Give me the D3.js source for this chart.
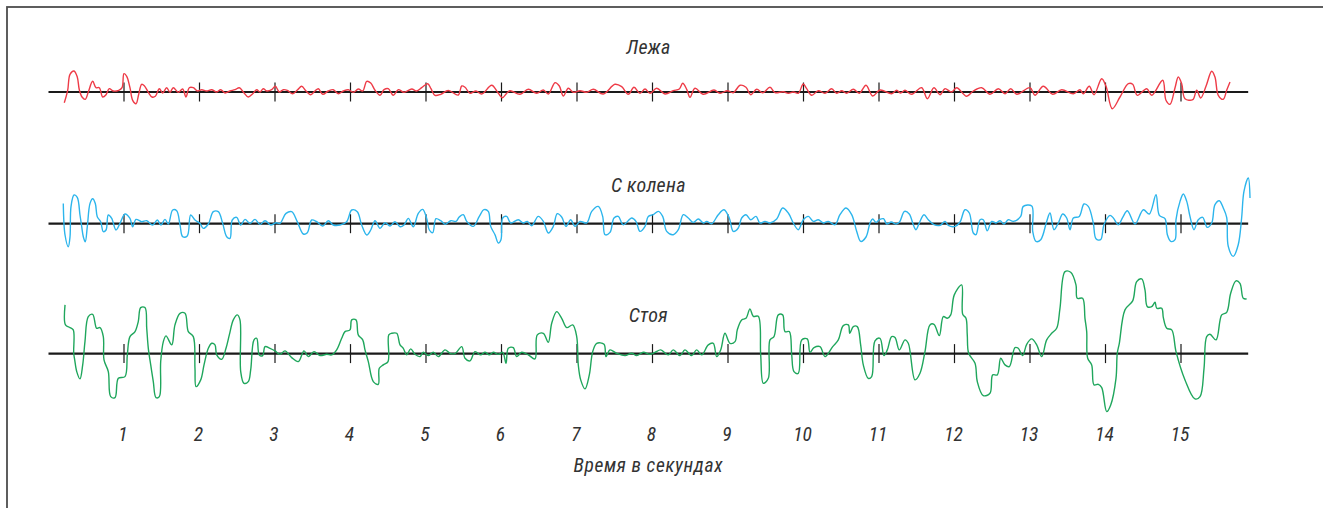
<!DOCTYPE html>
<html>
<head>
<meta charset="utf-8">
<script src="https://cdn.jsdelivr.net/npm/d3@7"></script>
<style>
  html, body { margin: 0; padding: 0; background: #fff; }
  svg text { font-family: "Liberation Sans Narrow", "Roboto Condensed", "Liberation Sans", sans-serif; font-style: italic; fill: #333; }
</style>
</head>
<body>
<div id="Chart"></div>
<script>
// seconds on the time axis
var tickValues = [1,2,3,4,5,6,7,8,9,10,11,12,13,14,15]
var axisLabel = "Время в секундах"
var titles = ["Лежа", "С колена", "Стоя"]

// trace: лежа (time in s, deflection)
var lyingT = [0.209,0.254,0.285,0.338,0.381,0.408,0.444,0.487,0.527,0.585,0.629,0.673,0.718,0.762,0.805,0.858,0.930,0.974,
  1.000,1.036,1.079,1.115,1.159,1.195,1.234,1.269,1.322,1.371,1.415,1.468,1.512,1.565,1.609,1.653,1.719,1.777,1.821,1.865,1.918,1.971,
  2.029,2.095,2.161,2.228,2.281,2.338,2.404,2.470,2.527,2.580,2.646,2.705,2.758,2.801,2.845,2.890,2.956,
  3.004,3.057,3.110,3.163,3.234,3.300,3.353,3.411,3.473,3.530,3.574,3.632,3.706,3.772,3.838,3.905,3.971,
  4.037,4.103,4.162,4.215,4.268,4.325,4.391,4.444,4.501,4.567,4.633,4.709,4.811,4.877,4.943,
  5.023,5.066,5.119,5.195,5.295,5.428,5.473,5.517,5.583,5.662,5.738,5.870,5.944,
  6.011,6.069,6.113,6.245,6.355,6.466,6.554,6.620,6.709,6.766,6.818,6.885,6.951,
  7.040,7.128,7.216,7.348,7.503,7.592,7.679,7.755,7.834,7.901,7.967,
  8.056,8.166,8.275,8.355,8.400,8.453,8.497,8.563,8.673,8.815,8.894,8.991,
  9.070,9.159,9.238,9.301,9.380,9.460,9.556,9.623,9.732,9.799,9.865,9.931,9.997,
  10.042,10.109,10.196,10.285,10.373,10.440,10.506,10.572,10.660,10.739,10.828,10.916,
  11.013,11.168,11.234,11.287,11.344,11.433,11.565,11.640,11.728,11.808,11.874,11.962,
  12.029,12.161,12.249,12.360,12.470,12.580,12.669,12.745,12.824,
  13.000,13.066,13.176,13.301,13.420,13.574,13.662,13.706,13.785,13.848,13.950,
  14.007,14.090,14.192,14.302,14.360,14.421,14.546,14.612,14.758,14.801,14.854,14.921,14.964,
  15.009,15.053,15.155,15.208,15.261,15.331,15.407,15.450,15.494,15.560,15.605,15.649]
var lyingV = [-10.7,1.7,17.7,21,15,2.3,-5,-7.3,0,10.7,4.3,4.3,-5,-2.7,3.3,1,1.7,4.3,
  18.3,15.7,4.3,-8.3,-11.7,-2.3,7.7,6.3,-0.3,-5,-4.3,3.3,-1,4.3,-0.3,4.3,-0.3,3,-5,4.3,4.3,1,
  2.3,1,2.3,0,2.3,-1,1,2.3,4.3,0,-5,-1.7,2.3,0,3.3,1,2.3,
  5.7,0,2.3,1.7,-1.7,2.3,5.7,1,-2.7,1,3.3,-2.3,1,2.3,-1.7,1,2.3,
  -0.3,3,1,10.7,9,1.7,-3.3,2.3,3.3,-3.3,2.3,-0.3,3,1,4.3,
  8.3,3.3,-3.3,-2.3,1.5,-3,6,4.7,-1.3,1,-2,6.7,0.3,
  -5.7,-1.3,1.3,-2.3,2.7,-1.3,2,-2,9.3,6,-4,3.7,-0.3,
  1.3,-0.3,2.7,-2,7.7,5.3,-2.3,4.7,-1.3,3,-1.3,
  3.7,-2,1.3,3,8.7,2.7,-5.3,3.7,-2.3,2,-1.3,1.3,
  -0.7,6.7,4.7,-2.7,2.7,-0.7,4.7,-0.7,0.3,-1.3,0,-1.3,8,
  3.3,-3.3,1.3,-1.3,3.3,-1.3,1.3,-1.3,2.7,-1.3,6.7,-4,
  2,-1.7,1.7,-1,1.7,-2.3,4.3,-6.7,4.3,-2.7,3.3,0,
  4.3,-4.3,1,4.3,-2.3,3.3,-1.7,3.3,-2.3,
  4.3,-3.3,5.7,-2.3,2.3,-1.7,2.3,-1.7,5.7,-2.7,13.3,
  5.7,-16.7,-5,8.3,7.7,-3.3,3.3,-3.3,11.7,-8.3,-12.3,4.3,15,
  8.3,-6.7,-7.7,1.7,-6,5.7,20.7,15,-3.3,-7.3,1.7,10]

// trace: с колена
var kneelingT = [0.196,0.219,0.262,0.285,0.298,0.338,0.381,0.417,0.440,0.461,0.487,0.514,0.550,0.585,0.620,0.646,0.691,0.726,0.762,0.792,0.837,0.894,0.947,
  1.013,1.079,1.115,1.159,1.234,1.301,1.380,1.441,1.490,1.543,1.587,1.645,1.698,1.742,1.777,1.838,1.883,1.940,
  2.007,2.050,2.117,2.183,2.249,2.307,2.360,2.404,2.434,2.493,2.546,2.603,2.669,2.735,2.801,2.868,2.943,
  3.013,3.066,3.146,3.221,3.295,3.375,3.428,3.486,3.552,3.632,3.706,3.772,3.861,3.950,
  4.016,4.090,4.148,4.215,4.268,4.325,4.391,4.457,4.523,4.589,4.656,4.709,4.766,4.832,4.898,4.956,
  5.009,5.044,5.089,5.132,5.195,5.252,5.330,5.397,5.440,5.494,5.539,5.626,5.706,5.768,5.825,5.857,5.914,5.958,5.993,
  6.016,6.069,6.122,6.222,6.289,6.342,6.400,6.487,6.554,6.620,6.686,6.739,6.797,6.854,6.916,6.974,
  7.040,7.128,7.195,7.282,7.340,7.371,7.437,7.490,7.547,7.613,7.725,7.781,7.834,7.901,7.944,
  8.011,8.077,8.135,8.188,8.275,8.342,8.408,8.474,8.540,8.607,8.673,8.718,8.784,8.871,8.947,
  9.017,9.070,9.136,9.181,9.238,9.301,9.371,9.424,9.490,9.556,9.645,9.724,9.799,9.865,9.931,9.997,
  10.064,10.130,10.196,10.262,10.328,10.417,10.483,10.563,10.638,10.705,10.758,10.828,10.881,10.916,10.960,
  11.004,11.060,11.103,11.162,11.228,11.272,11.338,11.401,11.454,11.490,11.534,11.596,11.653,11.728,11.808,11.874,11.918,
  12.007,12.073,12.139,12.196,12.249,12.285,12.338,12.381,12.434,12.493,12.550,12.603,12.656,12.713,12.779,12.877,12.911,
  13.023,13.036,13.079,13.142,13.221,13.265,13.318,13.375,13.433,13.486,13.530,13.574,13.653,13.715,13.772,13.838,13.874,13.936,13.980,
  14.060,14.104,14.170,14.228,14.289,14.391,14.501,14.580,14.669,14.713,14.788,14.819,14.864,14.921,14.934,14.987,
  15.031,15.076,15.119,15.172,15.229,15.287,15.348,15.407,15.450,15.507,15.560,15.605,15.626,15.692,15.758,15.803,15.834,15.891,15.914]
var kneelingV = [20.3,-11.3,-23,-13,17,28.7,26.3,8.7,-3,-13,-18,-3,20.3,25,20.3,7,2,-8,-6.3,8.7,5.3,-6.3,0.3,
  9.7,5.3,-3,4.3,2,3,-1.3,3.7,-1.3,4.3,-0.3,13.7,13,-1.3,-13,-12.3,8.7,3.7,
  0.3,-4.7,-0.3,12,12,0.3,-13,-14.7,3.7,6.3,-1.3,4.3,0.3,4.3,-0.7,3,-1.3,
  1,0.3,10.3,12,2,-10.3,-9,3.7,2,-2.3,3,-1.3,-1.3,2,
  13.7,12,-1.3,-11.3,-6.3,3,-4.7,1,-2.3,2,-3,-1.3,5.3,-3,10.3,14.3,
  5.3,-6.3,-9,5,3,-0.5,3,2.3,6.7,9,2.3,-2.7,7.3,14,12.3,-2.7,-11,-19.3,-16,
  5.7,7.3,0.7,4,0.7,2.3,-2,7.3,2.3,-9.3,-2.7,10,6.7,-2.7,4,-2.7,
  2.3,0.7,12.3,17.3,7.3,-11,-8.7,5.7,7.3,-1,5.7,2.3,-7.7,-2.7,7.3,
  9,12.3,7.3,-7.7,-11,-6,9,5.7,1.3,4.7,0.7,2.3,0,9,14,
  5.7,-7.7,-4.3,5.7,9,4,7.3,0.7,2.3,0.7,4.7,15.7,10.7,0.7,-6,4,
  7.3,2.3,4,0.7,2.3,-1,9,15.7,9,-7.7,-17.7,-13.3,0.7,4.7,1.3,
  4,5,-0.3,1.7,-0.3,1.7,12.3,9.7,-1,-6,0.7,9,4,-1,-1.7,2.3,-1.7,
  -2.7,1.7,14,10.7,-9.3,-11,4,4,-7,2.3,0.7,3,-0.3,4,2.3,7.3,17.3,
  17.7,-7.7,-17.7,-16,2.3,10.7,-6,0.7,9.7,5.7,-6,5.7,7.3,19.7,17.3,0.7,-15,-16,-1,
  8.3,5.7,-1,6.3,13,-0.3,14,9.7,29,8.3,5,-11,-17.7,-16,4,22.3,
  29.7,22.3,7.3,-6,4,6.3,-3.7,0.7,19,23,15.7,6.3,-22.7,-32.7,-21,5.7,32.3,45.7,25.7]

// trace: стоя
var standingT = [0.219,0.225,0.285,0.328,0.334,0.347,0.374,0.417,0.453,0.483,0.527,0.585,0.638,0.682,0.726,0.735,0.792,0.824,0.881,0.925,
  1.013,1.044,1.079,1.146,1.189,1.221,1.278,1.301,1.322,1.354,1.388,1.424,1.468,1.486,1.521,1.556,1.632,1.675,1.742,1.808,1.852,1.918,1.940,1.954,
  2.016,2.060,2.117,2.162,2.205,2.228,2.294,2.351,2.395,2.448,2.501,2.536,2.546,2.589,2.646,2.678,2.722,2.758,2.792,2.837,2.868,2.934,
  3.000,3.066,3.132,3.221,3.309,3.384,3.441,3.517,3.596,3.685,3.751,3.817,3.883,3.927,3.993,
  4.016,4.073,4.103,4.162,4.192,4.236,4.302,4.368,4.381,4.434,4.497,4.507,4.546,4.612,4.656,4.699,4.744,4.797,4.854,4.921,4.964,
  5.030,5.097,5.163,5.252,5.318,5.384,5.473,5.517,5.583,5.649,5.725,5.781,5.838,5.891,5.958,
  6.016,6.060,6.090,6.156,6.201,6.267,6.355,6.444,6.474,6.554,6.620,6.665,6.731,6.797,6.864,6.943,6.996,
  7.017,7.049,7.106,7.163,7.208,7.261,7.358,7.384,7.437,7.526,7.636,7.725,7.791,7.878,7.967,
  8.033,8.109,8.209,8.275,8.364,8.430,8.519,8.585,8.652,8.739,8.805,8.850,8.903,8.960,
  9.026,9.093,9.123,9.181,9.238,9.291,9.335,9.401,9.433,9.468,9.534,9.556,9.609,9.666,9.724,9.755,9.812,9.844,9.874,9.931,9.976,
  10.050,10.086,10.139,10.219,10.285,10.387,10.461,10.527,10.594,10.613,10.659,10.712,10.757,10.792,10.858,10.903,10.947,
  11.013,11.066,11.110,11.168,11.212,11.269,11.344,11.388,11.477,11.543,11.609,11.675,11.728,11.799,11.852,11.905,11.950,11.997,
  12.095,12.109,12.152,12.169,12.188,12.272,12.302,12.381,12.470,12.506,12.567,12.612,12.669,12.726,12.801,12.845,12.903,12.956,
  13.022,13.089,13.155,13.221,13.287,13.353,13.397,13.464,13.539,13.609,13.626,13.697,13.728,13.751,13.764,13.817,13.848,13.905,13.950,
  14.016,14.069,14.139,14.156,14.183,14.258,14.360,14.413,14.479,14.523,14.554,14.612,14.656,14.679,14.745,14.766,14.811,14.877,14.934,
  15.053,15.185,15.252,15.305,15.340,15.384,15.464,15.539,15.605,15.658,15.728,15.781,15.825,15.870]
var standingV = [48.7,28.7,26,23.7,0.3,-6.3,-18,-25.3,-11.3,12,37,39.3,25.3,26,17,-6.3,-18,-43,-44,-24.7,
  -23,-1.3,17,22,32,46,46,25.3,5.3,-11.3,-28,-44,-43,-8,12,17.7,8.7,28.7,40.3,40.3,22,17,-14.7,-33,
  -26.3,-11.3,5.3,10.3,8.7,-1.3,-5.7,5.3,18.7,33.7,38.7,33.7,-18,-29.7,-28,-16.3,13.7,15.3,-1.3,-2,7,5.3,
  2.7,-0.7,2.7,-4,-8,2.7,-3,2,-2,-0.7,-1.3,3.7,15.3,22,23.7,
  33.7,33.7,18.7,13.7,3.7,-8,-28,-30.7,-14.7,-11.3,-8,18.7,20.3,20.3,8.7,5.3,-1.3,4.7,-0.7,-3,1.3,
  -2,1.3,-3,3.7,0.3,0,7,-4.7,-7.3,2,-1.3,1.3,-1.3,1.3,-0.7,
  1.3,-9.7,5.3,6,-3,1.3,-1.3,-5.3,18.7,20.3,11.3,30.3,42,35.3,26,28.7,17,
  -11.3,-26.3,-35.3,-21.3,2,10.3,9.3,-3,3.7,0.3,-2,0.3,-2,1.3,-0.7,
  1.3,3.7,-1.3,3.7,-2,3.7,-2,3.7,-1.3,8.7,10.3,-3,3.7,20.3,
  10.3,12,23.7,33.7,35.3,44.7,37.3,37.3,-1.3,-29.7,-24.7,13.7,17,38.7,38.7,22,22,-1.3,-18,-19.7,13.7,
  14.7,1.3,6,7,-3,7,13.7,28,28.7,20.3,27,27,8.7,-11.3,-24.7,-23,12.7,
  15.3,-2,3.7,17,16,3.7,13.7,10.3,-26.3,-19.7,2,28.7,29.3,18,37,35.3,38.7,58.7,
  68.7,39.3,35.3,18.7,0.3,-9.7,-28,-42,-39.7,-21.3,-21.3,-4.7,-11.3,-13,6,5.3,-2,9.3,
  14.7,8.7,-3,13.7,20.3,25.3,45.3,82,81.3,68.7,55.3,55.3,35.3,22,-4.7,-11.3,-31.3,-30.7,-34,
  -58,-51.3,-24.7,0.3,10.3,43.7,52.7,72,74.7,63.7,47,47,51.3,45.3,45.3,36,25.3,23.7,2,
  -26.3,-45.3,-43,-14.7,17,19.3,13.7,38.7,41.3,60.3,72.7,70.3,55.3,54.7]

var colors = ["#ee3b47", "#2cb5ec", "#1fa65c"]

var Chart = () => {
  var Width = 1323, Height = 508
  var baseY = [92, 223.7, 353.6]      // baseline of each trace
  var titleY = [53.5, 191.5, 321.5]
  var tMax = 15.89

  var svg = d3.select("#Chart")
    .append("svg")
      .attr("width", Width)
      .attr("height", Height)

  // frame (only top and left edges fall inside the window)
  svg.append("rect")
    .attr("x", 7).attr("y", 7)
    .attr("width", Width + 100).attr("height", Height + 100)
    .attr("fill", "none")
    .attr("stroke", "#4d4d4d")
    .attr("stroke-width", 1.8)

  var X = d3.scaleLinear()
    .domain([0, tMax])
    .range([48.5, 48.5 + 75.5 * tMax])

  var series = [
    {t: lyingT, v: lyingV},
    {t: kneelingT, v: kneelingV},
    {t: standingT, v: standingV}
  ]

  series.forEach((s, i) => {
    var Y = d3.scaleLinear()
      .domain([-100, 100])
      .range([baseY[i] + 100, baseY[i] - 100])
    var g = svg.append("g")

    g.append("line") // baseline
      .attr("x1", X(0)).attr("x2", X(tMax))
      .attr("y1", Y(0)).attr("y2", Y(0))
      .attr("stroke", "#1a1a1a")
      .attr("stroke-width", 2.2)

    g.selectAll("line.tick")
      .data(tickValues)
      .enter()
      .append("line")
        .attr("class", "tick")
        .attr("x1", d => X(d)).attr("x2", d => X(d))
        .attr("y1", Y(9.5)).attr("y2", Y(-9.5))
        .attr("stroke", "#1a1a1a")
        .attr("stroke-width", 1.2)

    var pts = s.t.map((t, j) => [t, s.v[j]])
    var line = d3.line()
      .x(d => X(d[0]))
      .y(d => Y(d[1]))
      .curve(d3.curveCatmullRom.alpha(0.5))

    g.append("path")
      .datum(pts)
      .attr("d", line)
      .attr("fill", "none")
      .attr("stroke", colors[i])
      .attr("stroke-width", 1.4)
      .attr("stroke-linejoin", "round")

    g.append("text")
      .attr("x", X(tMax / 2))
      .attr("y", titleY[i])
      .attr("text-anchor", "middle")
      .style("font-size", "20px")
      .style("letter-spacing", "0.3px")
      .text(titles[i])
  })

  // second labels
  var xAxis = svg.append("g")
    .attr("transform", "translate(0,426)")
    .call(d3.axisBottom(X).tickValues(tickValues).tickSize(0).tickPadding(0))
  xAxis.select(".domain").remove()
  xAxis.selectAll("text")
    .attr("dy", 0)
    .attr("y", 15)
    .attr("dx", -1.5)
    .style("font-size", "19.5px")

  svg.append("text")
    .attr("x", X(tMax / 2))
    .attr("y", 472)
    .attr("text-anchor", "middle")
    .style("font-size", "19.5px")
    .style("letter-spacing", "0.6px")
    .text(axisLabel)
}
Chart()
</script>
</body>
</html>
